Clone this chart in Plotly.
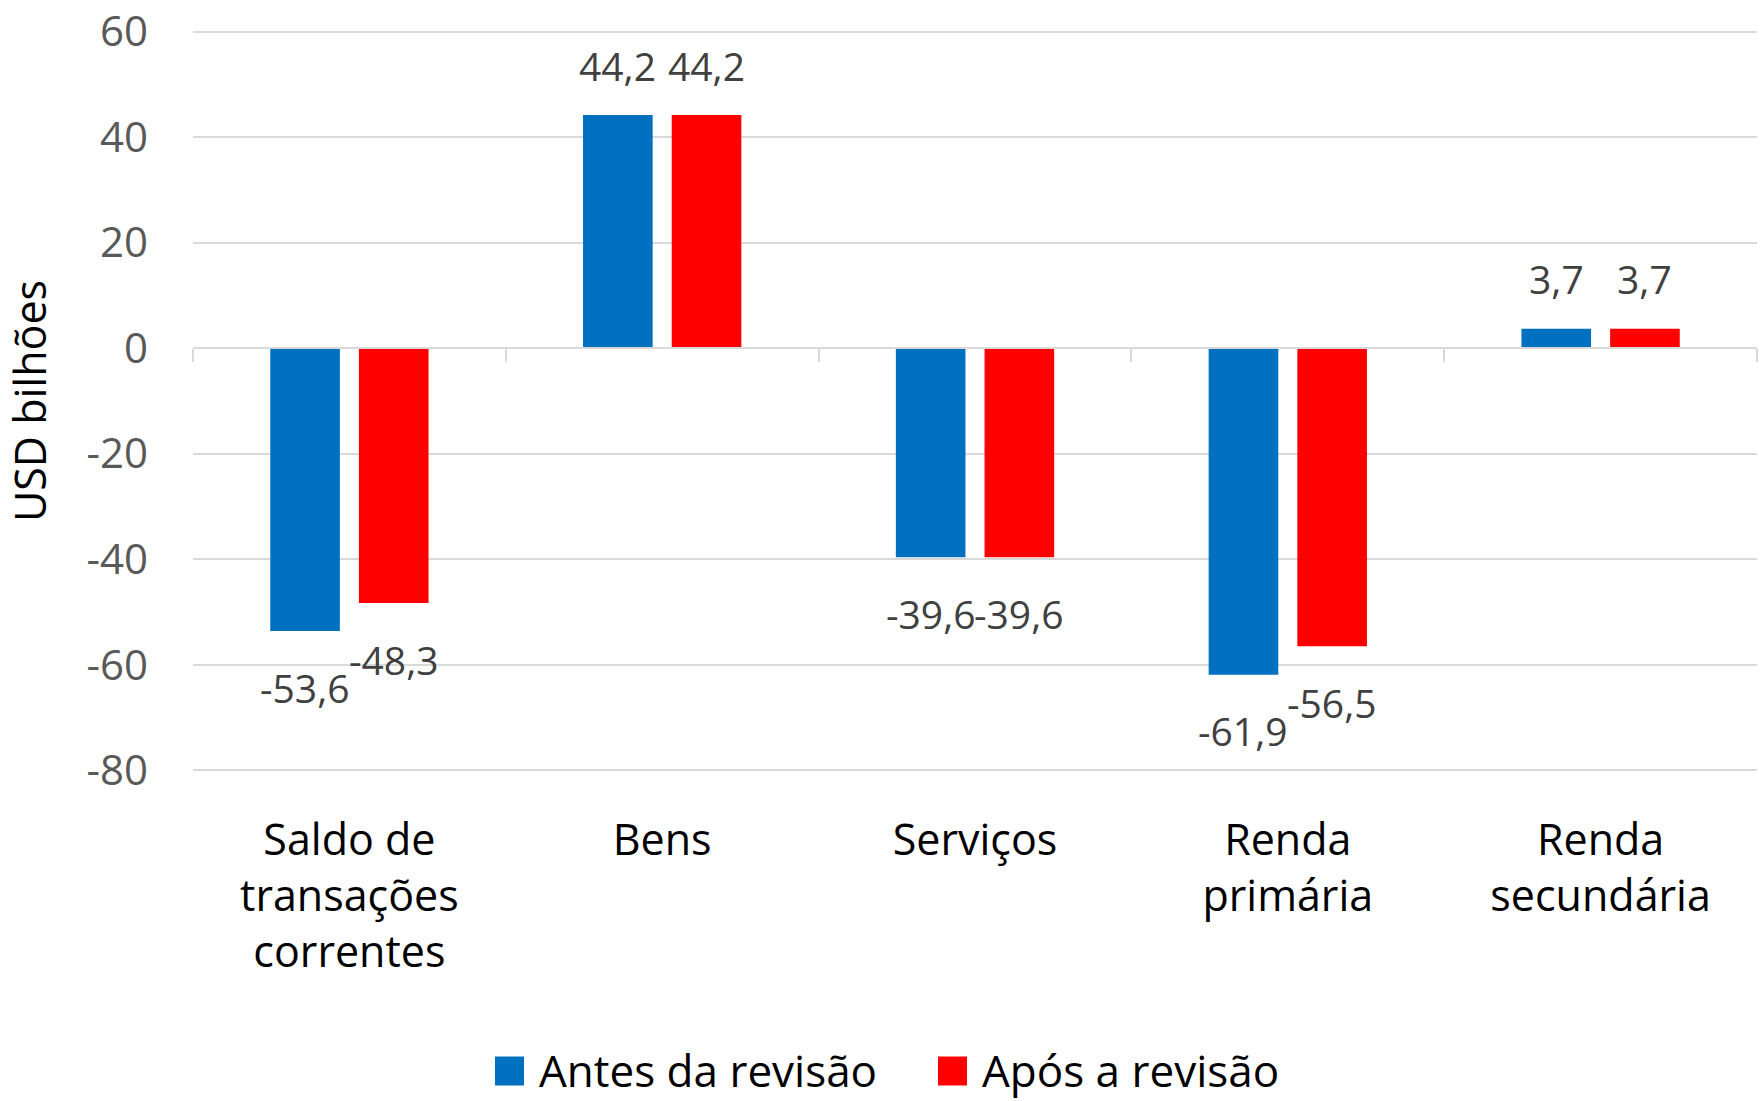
import plotly.graph_objects as go

categories = ["Saldo de<br>transações<br>correntes", "Bens", "Serviços", "Renda<br>primária", "Renda<br>secundária"]
antes = [-53.6, 44.2, -39.6, -61.9, 3.7]
apos = [-48.3, 44.2, -39.6, -56.5, 3.7]
series_names = ["Antes da revisão", "Após a revisão"]
colors = ["#0070C0", "#FF0000"]
y_ticks = [60, 40, 20, 0, -20, -40, -60, -80]

FONT = "Open Sans"
W, H = 1761, 1101
ML, MR, MT, MB = 193, 4, 29, 328
BARGAP, BARGROUPGAP = 0.433, 0.215
Y_RANGE = [-80.5, 60.5]
plot_w = W - ML - MR
plot_h = H - MT - MB

def fmt(v):
    return f"{v:.1f}".replace(".", ",")

fig = go.Figure()
for name, vals, col in zip(series_names, [antes, apos], colors):
    fig.add_trace(go.Bar(
        x=categories, y=vals, name=name, marker_color=col, marker_line_width=0,
        showlegend=False,
    ))
# zero-line axis with boundary ticks
fig.add_trace(go.Scatter(x=categories, y=[None] * len(categories), xaxis="x2",
                         mode="markers", showlegend=False, hoverinfo="skip"))

# data labels (Excel style, outside end with padding)
cat_w = plot_w / len(categories)
slot = (1 - BARGAP) * cat_w / 2
annotations = []
for i, vals in enumerate([antes, apos]):
    xs = (i - 0.5) * slot
    for c, v in zip(categories, vals):
        annotations.append(dict(
            x=c, y=v, xref="x", yref="y", text=fmt(v), showarrow=False,
            xshift=xs, yshift=50 if v >= 0 else -56, yanchor="middle", xanchor="center",
            font=dict(family=FONT, size=39, color="#404040"),
        ))

# legend (large square keys, as in the original); positions in page pixels
leg_cy = 1070
leg_items = [(495, 537), (938, 980)]
leg_y = (MT + plot_h - leg_cy) / plot_h
shapes = []
for (sx, tx), name, col in zip(leg_items, series_names, colors):
    x0 = (sx - ML) / plot_w
    x1 = (sx + 29 - ML) / plot_w
    h = 29 / plot_h
    shapes.append(dict(type="rect", xref="paper", yref="paper", x0=x0, x1=x1,
                       y0=leg_y - h / 2 - 1 / plot_h, y1=leg_y + h / 2 - 1 / plot_h,
                       fillcolor=col, line_width=0))
    annotations.append(dict(x=(tx - ML) / plot_w, y=leg_y, xref="paper", yref="paper",
                            text=name, showarrow=False, xanchor="left", yanchor="middle",
                            font=dict(family=FONT, size=44, color="#000000")))

fig.update_layout(
    width=W, height=H,
    margin=dict(l=ML, r=MR, t=MT, b=MB, autoexpand=False),
    paper_bgcolor="white", plot_bgcolor="white",
    barmode="group", bargap=BARGAP, bargroupgap=BARGROUPGAP,
    font=dict(family=FONT, color="#000000"),
    showlegend=False,
    xaxis=dict(
        type="category", tickfont=dict(family=FONT, size=43, color="#000000"),
        showgrid=False, zeroline=False, showline=False, ticks="",
        ticklabelstandoff=38,
    ),
    xaxis2=dict(
        type="category", matches="x", overlaying="x", anchor="free",
        position=(0 - Y_RANGE[0]) / (Y_RANGE[1] - Y_RANGE[0]),
        showticklabels=False, showgrid=False,
        showline=True, linecolor="#d9d9d9", linewidth=2,
        ticks="outside", tickson="boundaries", ticklen=13, tickwidth=2,
        tickcolor="#d9d9d9",
    ),
    yaxis=dict(
        range=Y_RANGE, tickvals=y_ticks, ticktext=[str(v) for v in y_ticks],
        tickfont=dict(family=FONT, size=42, color="#595959"),
        showgrid=True, gridcolor="#d9d9d9", gridwidth=2,
        zeroline=False, showline=False, ticks="", ticklabelstandoff=44,
        ticklabeloverflow="allow",
        title=dict(text="USD bilhões", font=dict(family=FONT, size=43, color="#000000"), standoff=45),
    ),
    annotations=annotations,
    shapes=shapes,
)

fig.write_html("out.html", config={"displayModeBar": False},
               post_script="document.body.style.margin='0';")
